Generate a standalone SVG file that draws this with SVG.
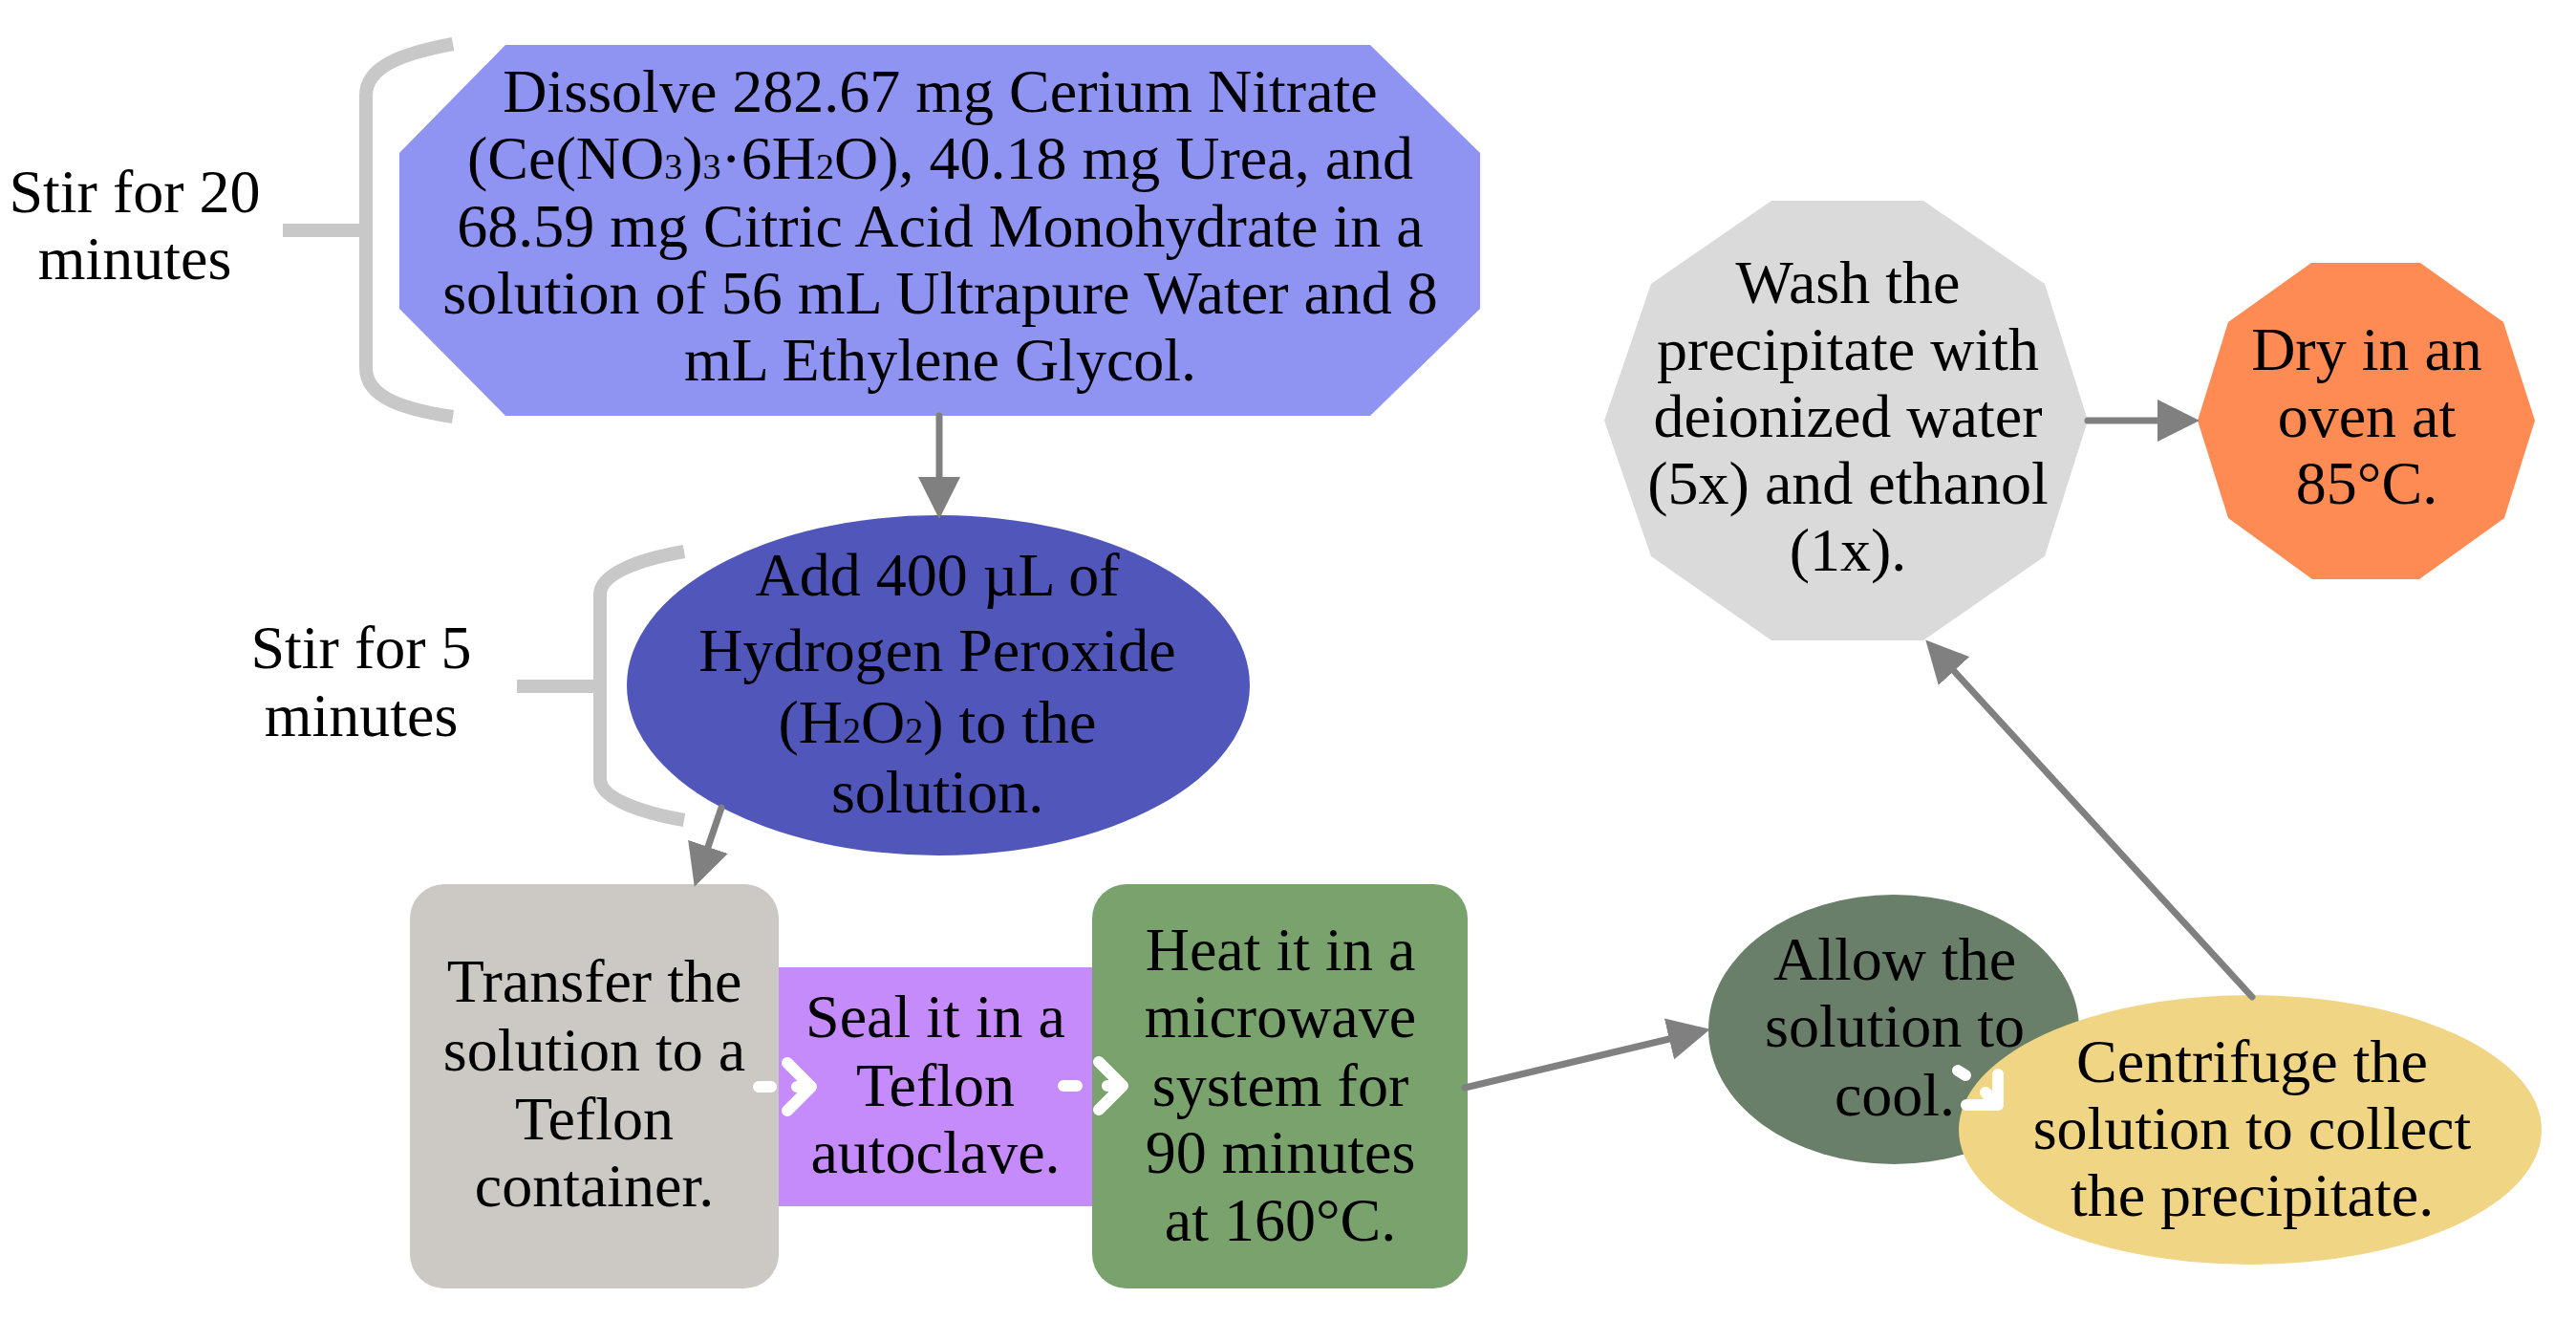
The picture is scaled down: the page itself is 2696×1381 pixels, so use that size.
<svg xmlns="http://www.w3.org/2000/svg" width="2696" height="1381" viewBox="0 0 2696 1381">
<style>
.t{font-family:"Liberation Serif","Times New Roman",serif;font-size:64px;fill:#000;text-anchor:middle}
.sub{font-size:38px}
.conn{stroke:#808080;stroke-width:7;fill:none;stroke-linecap:round}
.brace{stroke:#C8C8C8;stroke-width:14;fill:none}
.wh{stroke:#FFFFFF;stroke-width:12;fill:none;stroke-linecap:round;stroke-linejoin:round}
</style>
<defs>
<marker id="ah" markerUnits="userSpaceOnUse" viewBox="0 0 44 44" markerWidth="44" markerHeight="44" refX="0" refY="22" orient="auto">
<path d="M0,0 L44,22 L0,44 Z" fill="#808080"/>
</marker>
</defs>
<rect width="2696" height="1381" fill="#FFFFFF"/>

<g id="brace-stir20">
<path class="brace" d="M474 46 C420 56 383 70 383 100 L383 385 C383 415 420 428 474 436"/>
<path class="brace" d="M296 241 H383"/>
<text class="t" x="141" y="222">Stir for 20</text>
<text class="t" x="141" y="292">minutes</text>
</g>

<g id="node-dissolve">
<polygon points="529,47 1434,47 1549,160 1549,323 1434,435 529,435 418,323 418,160" fill="#8F93F2"/>
<text class="t" x="984" y="117">Dissolve 282.67 mg Cerium Nitrate</text>
<text class="t" x="984" y="187">(Ce(NO<tspan class="sub">3</tspan>)<tspan class="sub">3</tspan>·6H<tspan class="sub">2</tspan>O), 40.18 mg Urea, and</text>
<text class="t" x="984" y="258">68.59 mg Citric Acid Monohydrate in a</text>
<text class="t" x="984" y="328">solution of 56 mL Ultrapure Water and 8</text>
<text class="t" x="984" y="398">mL Ethylene Glycol.</text>
</g>

<g id="brace-stir5">
<path class="brace" d="M716 577 C670 585 628 600 628 622 L628 815 C628 835 670 850 716 858"/>
<path class="brace" d="M541 718 H628"/>
<text class="t" x="378" y="699">Stir for 5</text>
<text class="t" x="378" y="770">minutes</text>
</g>

<g id="node-add">
<ellipse cx="982" cy="717" rx="326" ry="178" fill="#5056BA"/>
<text class="t" x="981" y="623">Add 400 µL of</text>
<text class="t" x="981" y="702">Hydrogen Peroxide</text>
<text class="t" x="981" y="777">(H<tspan class="sub">2</tspan>O<tspan class="sub">2</tspan>) to the</text>
<text class="t" x="981" y="850">solution.</text>
</g>

<g id="node-transfer">
<rect x="429" y="925" width="386" height="423" rx="36" ry="36" fill="#CCC9C4"/>
<text class="t" x="622" y="1048">Transfer the</text>
<text class="t" x="622" y="1120">solution to a</text>
<text class="t" x="622" y="1192">Teflon</text>
<text class="t" x="622" y="1262">container.</text>
</g>

<g id="node-seal">
<rect x="815" y="1012" width="328" height="250" fill="#C68BFA"/>
<text class="t" x="979" y="1085">Seal it in a</text>
<text class="t" x="979" y="1157">Teflon</text>
<text class="t" x="979" y="1227">autoclave.</text>
</g>

<g id="node-heat">
<rect x="1143" y="925" width="393" height="423" rx="36" ry="36" fill="#79A26D"/>
<text class="t" x="1340" y="1015">Heat it in a</text>
<text class="t" x="1340" y="1085">microwave</text>
<text class="t" x="1340" y="1157">system for</text>
<text class="t" x="1340" y="1227">90 minutes</text>
<text class="t" x="1340" y="1298">at 160°C.</text>
</g>

<g id="node-allow">
<ellipse cx="1982" cy="1077" rx="194" ry="141" fill="#6A7F69"/>
<text class="t" x="1983" y="1025">Allow the</text>
<text class="t" x="1983" y="1095">solution to</text>
<text class="t" x="1983" y="1167">cool.</text>
</g>

<g id="node-centrifuge">
<ellipse cx="2355" cy="1182" rx="305" ry="141" fill="#F0D584"/>
<text class="t" x="2357" y="1132">Centrifuge the</text>
<text class="t" x="2357" y="1202">solution to collect</text>
<text class="t" x="2357" y="1272">the precipitate.</text>
</g>

<g id="node-wash">
<polygon points="1854,210 2013,210 2140,297 2185,440 2140,582 2013,670 1854,670 1728,582 1679,440 1728,297" fill="#DADADA"/>
<text class="t" x="1934" y="317">Wash the</text>
<text class="t" x="1934" y="387">precipitate with</text>
<text class="t" x="1934" y="457">deionized water</text>
<text class="t" x="1934" y="527">(5x) and ethanol</text>
<text class="t" x="1934" y="597">(1x).</text>
</g>

<g id="node-dry">
<polygon points="2419,275 2533,275 2620,337 2653,440 2621,542 2532,606 2420,606 2332,542 2300,440 2332,337" fill="#FE8B53"/>
<text class="t" x="2477" y="387">Dry in an</text>
<text class="t" x="2477" y="457">oven at</text>
<text class="t" x="2477" y="527">85°C.</text>
</g>

<g id="connectors">
<path class="conn" d="M983 435 L983 499" marker-end="url(#ah)"/>
<path class="conn" d="M755 845 L741 886" marker-end="url(#ah)"/>
<path class="conn" d="M1533 1138 L1747 1087" marker-end="url(#ah)"/>
<path class="conn" d="M2357 1043 L2045 702" marker-end="url(#ah)"/>
<path class="conn" d="M2185 440 L2258 440" marker-end="url(#ah)"/>
<path class="wh" d="M794 1137 H807 M834 1137 H849 M824 1112 L849 1137 L824 1162"/>
<path class="wh" d="M1113 1136 H1127 M1159 1136 H1175 M1150 1111 L1175 1136 L1150 1161"/>
<path class="wh" d="M2049 1120 L2057 1125 M2078 1143 L2091 1156 M2091 1124 L2091 1156 L2058 1156"/>
</g>
</svg>
